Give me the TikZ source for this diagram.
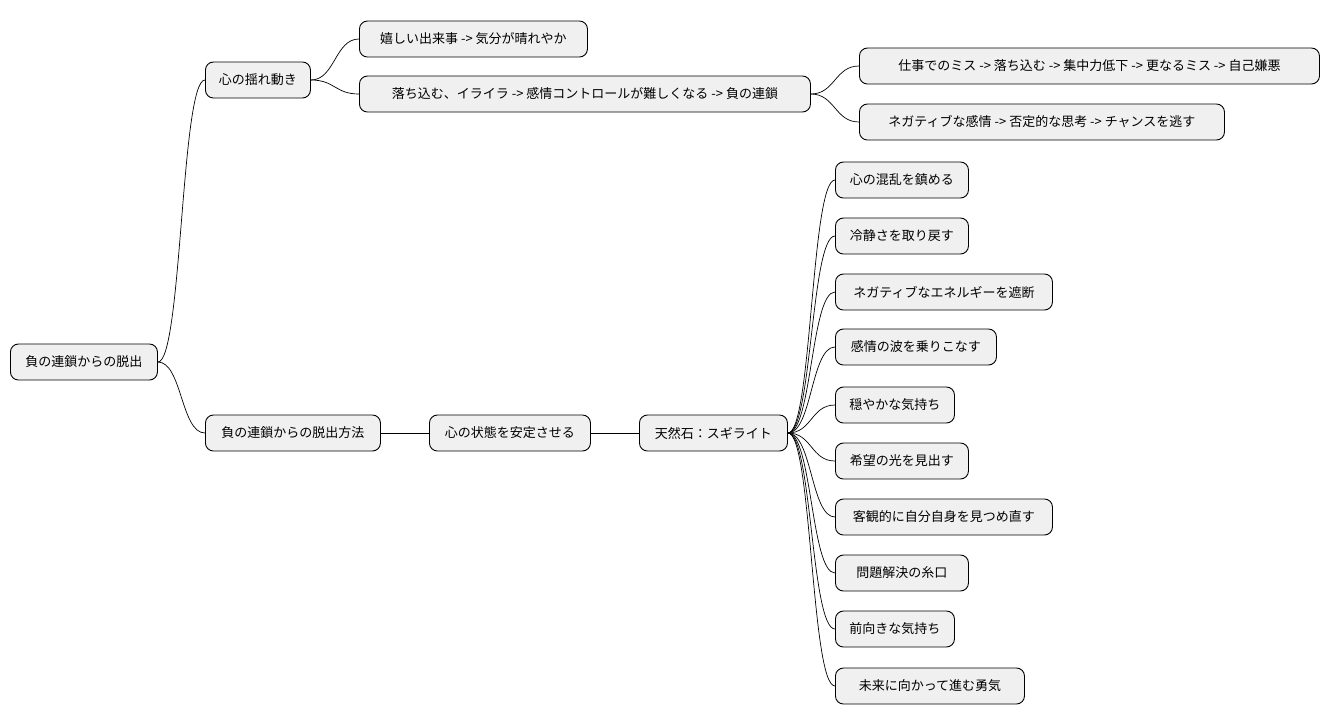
\documentclass[tikz,border=0pt]{standalone}
\usepackage{fontspec}
\setmainfont{Noto Sans CJK JP}
\begin{document}
\begin{tikzpicture}[x=1pt,y=-1pt,
  box/.style={draw=black,line width=0.9pt,fill=black!6,rounded corners=8pt,minimum height=36pt,anchor=west,inner xsep=0pt,font=\fontsize{13}{15}\selectfont,text=black},
  con/.style={draw=black,line width=0.7pt}]
\useasboundingbox (0,0) rectangle (1329,724);
\newcommand{\bx}[5]{\node[box,minimum width={#4-#3}] (#1) at (#3,#5) {#2};}
\bx{root}{負の連鎖からの脱出}{10}{157}{362}
\bx{a}{心の揺れ動き}{205}{310}{80}
\bx{a1}{嬉しい出来事 -> 気分が晴れやか}{359}{587}{39}
\bx{a2}{落ち込む、イライラ -> 感情コントロールが難しくなる -> 負の連鎖}{359}{810}{94}
\bx{a21}{仕事でのミス -> 落ち込む -> 集中力低下 -> 更なるミス -> 自己嫌悪}{859}{1319}{66}
\bx{a22}{ネガティブな感情 -> 否定的な思考 -> チャンスを逃す}{859}{1224}{122}
\bx{b}{負の連鎖からの脱出方法}{205}{380}{433}
\bx{c}{心の状態を安定させる}{429}{590}{433}
\bx{d}{天然石：スギライト}{639}{787}{433}
\bx{l1}{心の混乱を鎮める}{835}{968}{180}
\bx{l2}{冷静さを取り戻す}{835}{968}{236}
\bx{l3}{ネガティブなエネルギーを遮断}{835}{1052}{292}
\bx{l4}{感情の波を乗りこなす}{835}{996}{347}
\bx{l5}{穏やかな気持ち}{835}{954}{405}
\bx{l6}{希望の光を見出す}{835}{968}{461}
\bx{l7}{客観的に自分自身を見つめ直す}{835}{1052}{517}
\bx{l8}{問題解決の糸口}{835}{968}{573}
\bx{l9}{前向きな気持ち}{835}{954}{629}
\bx{l10}{未来に向かって進む勇気}{835}{1024}{686}
\foreach \p/\c in {root/a,root/b,a/a1,a/a2,a2/a21,a2/a22,b/c,c/d,d/l1,d/l2,d/l3,d/l4,d/l5,d/l6,d/l7,d/l8,d/l9,d/l10}
  \draw[con] (\p.east) .. controls ([xshift=24pt]\p.east) and ([xshift=-24pt]\c.west) .. (\c.west);
\end{tikzpicture}
\end{document}
